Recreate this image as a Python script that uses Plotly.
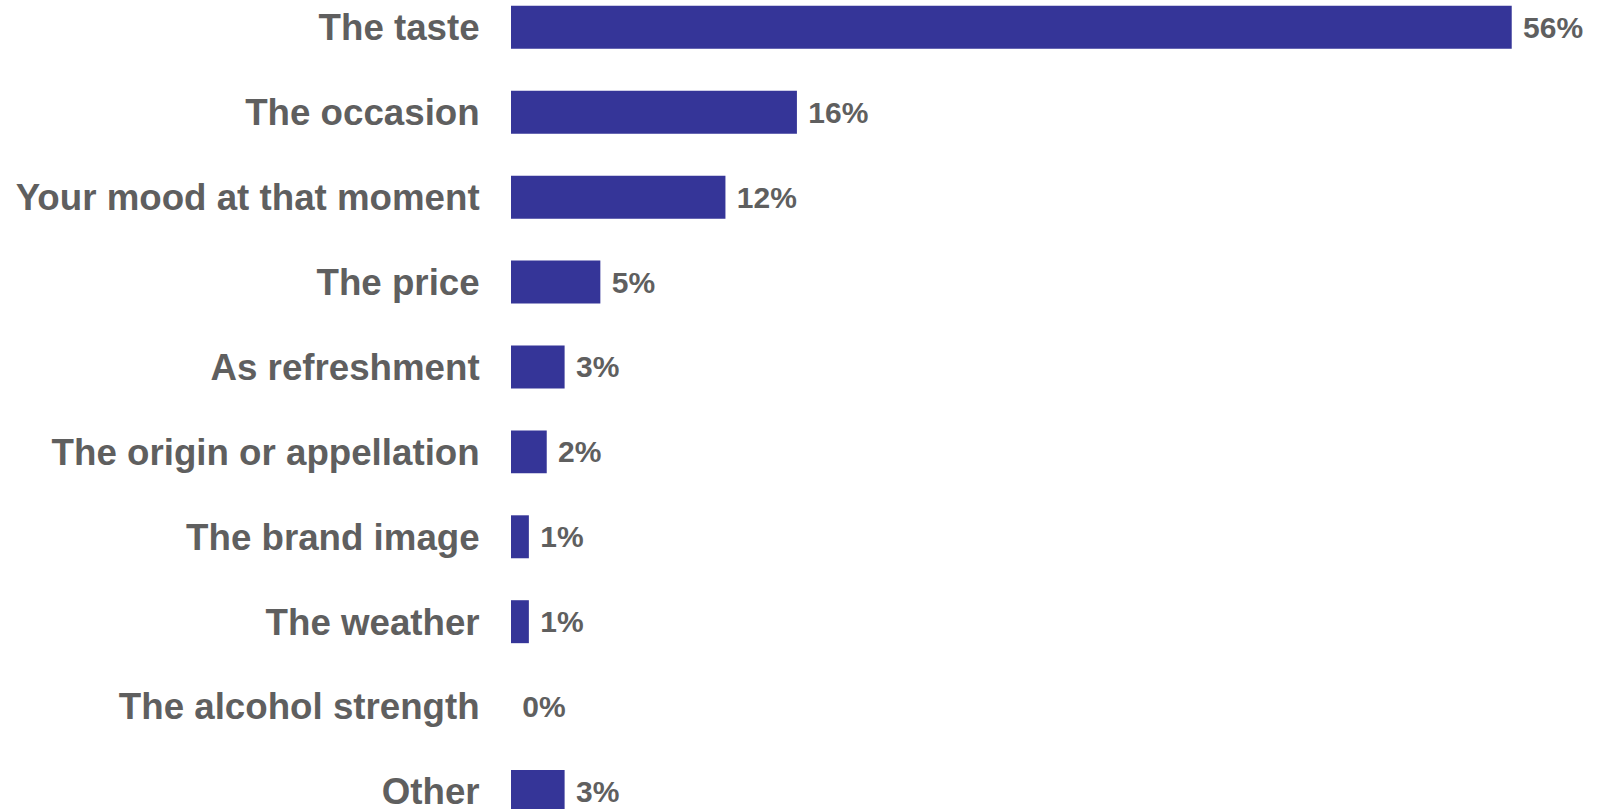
import plotly.graph_objects as go

# Reasons for choosing a drink, share of respondents (%)
categories = [
    "The taste",
    "The occasion",
    "Your mood at that moment",
    "The price",
    "As refreshment",
    "The origin or appellation",
    "The brand image",
    "The weather",
    "The alcohol strength",
    "Other",
]
values = [56, 16, 12, 5, 3, 2, 1, 1, 0, 3]
# a non-breaking space keeps the value labels clear of the bar ends
value_labels = [f"\u00a0{v}%" for v in values]

BAR_COLOR = "#353598"
TEXT_COLOR = "#5f5f5f"
FONT = "Liberation Sans, Arial, sans-serif"

fig = go.Figure(
    go.Bar(
        x=values,
        y=categories,
        orientation="h",
        marker=dict(color=BAR_COLOR, line=dict(width=0)),
        text=value_labels,
        textposition="outside",
        textfont=dict(family=FONT, size=30, color=TEXT_COLOR, weight="bold"),
        cliponaxis=True,
        hoverinfo="skip",
    )
)

fig.update_layout(
    width=1599,
    height=809,
    margin=dict(l=511, r=14, t=0, b=0, autoexpand=False),
    paper_bgcolor="white",
    plot_bgcolor="white",
    showlegend=False,
    bargap=0.494,
)

fig.update_xaxes(visible=False, range=[0, 60.1], fixedrange=True, automargin=False)
fig.update_yaxes(
    type="category",
    range=[9.206, -0.322],
    automargin=False,
    showgrid=False,
    showline=False,
    zeroline=False,
    ticks="outside",
    ticklen=23,
    tickcolor="rgba(0,0,0,0)",
    tickfont=dict(family=FONT, size=36.7, color=TEXT_COLOR, weight="bold"),
    fixedrange=True,
)

fig.write_html("out.html")
